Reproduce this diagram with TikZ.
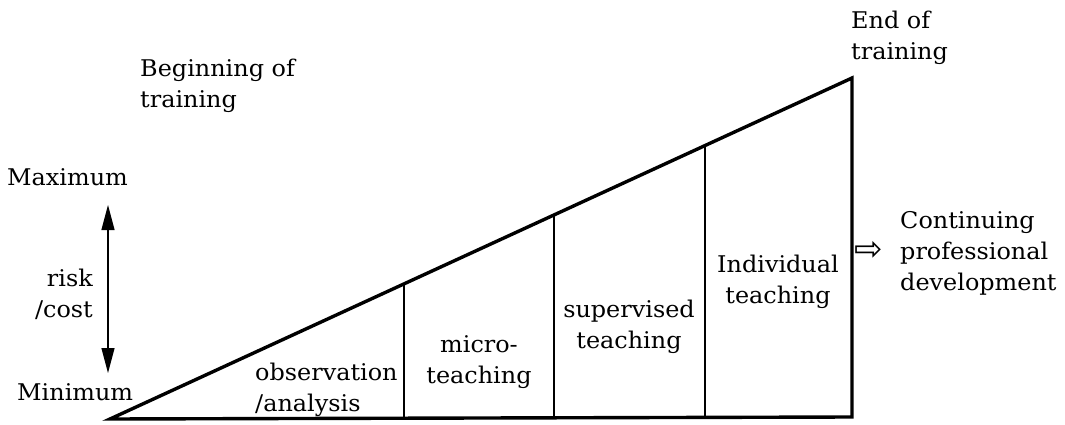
\documentclass[tikz,border=0pt]{standalone}
\usepackage{fontspec}
\setmainfont{DejaVu Serif}[FakeStretch=1.04]
\newfontfamily\symfont{DejaVu Sans}
\usetikzlibrary{arrows.meta,calc}
\begin{document}
\begin{tikzpicture}[x=1pt,y=-1pt,
  lbl/.style={inner sep=0pt, font=\fontsize{23}{31}\selectfont},
  outline/.style={line width=3.4pt, line join=miter},
  divider/.style={line width=1.5pt},
  dbl/.style={line width=1.2pt, {Triangle[length=25pt,width=13pt]}-{Triangle[length=25pt,width=13pt]}}]
\useasboundingbox (0,0) rectangle (1065,425);
% main wedge
\coordinate (tip) at (110,419);
\coordinate (top) at (852,78);
\coordinate (br) at (852,417);
\draw[outline] (tip) -- (top) -- (br) -- cycle;
% dividers
\coordinate (d1t) at ($(tip)!0.3962!(top)$);
\coordinate (d1b) at ($(tip)!0.3962!(br)$);
\coordinate (d2t) at ($(tip)!0.5984!(top)$);
\coordinate (d2b) at ($(tip)!0.5984!(br)$);
\coordinate (d3t) at ($(tip)!0.8019!(top)$);
\coordinate (d3b) at ($(tip)!0.8019!(br)$);
\draw[divider] (d1t) -- (d1b);
\draw[divider] (d2t) -- (d2b);
\draw[divider] (d3t) -- (d3b);
% risk / cost arrow
\coordinate (amax) at (108,205);
\coordinate (amin) at (108,373);
\draw[dbl] (amax) -- (amin);
% labels (base anchor = baseline of the last line)
\node[lbl, anchor=base west, align=left] (begin) at (140,108) {Beginning of\\training};
\node[lbl, anchor=base west, align=left] (end) at (851,60) {End of\\training};
\node[lbl, anchor=base west] (max) at (7,185) {Maximum};
\node[lbl, anchor=base west] (min) at (17,400) {Minimum};
\node[lbl, anchor=base east, align=right] (risk) at (93,317) {risk\\/cost};
\node[lbl, anchor=base west, align=left] (cont) at (900,290) {Continuing\\professional\\development};
\node[inner sep=0pt, font=\symfont\fontsize{34}{34}\selectfont] (darr) at (869,251) {⇨};
\node[lbl, anchor=base west, align=left] (obs) at (255,411) {observation\\/analysis};
\node[lbl, anchor=base, align=center] (micro) at (479,383) {micro-\\teaching};
\node[lbl, anchor=base, align=center] (sup) at (629,348) {supervised\\teaching};
\node[lbl, anchor=base, align=center] (ind) at (778,303) {Individual\\teaching};
\end{tikzpicture}
\end{document}
